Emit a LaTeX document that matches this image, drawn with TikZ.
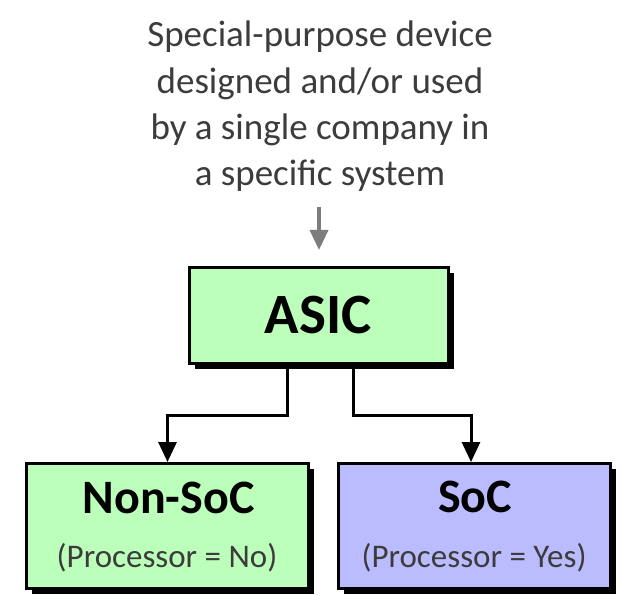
\documentclass[tikz,border=0pt]{standalone}
\usepackage{fontspec}
\setmainfont{Carlito}
\usetikzlibrary{arrows.meta,shadows}
\definecolor{asicgreen}{RGB}{187,255,187}
\definecolor{socblue}{RGB}{187,187,255}
\definecolor{notegray}{RGB}{60,60,60}
\definecolor{arrowgray}{RGB}{125,125,125}
\begin{document}
\begin{tikzpicture}[x=1pt,y=-1pt,
  box/.style={draw=black,line width=3pt,inner sep=0pt,
    drop shadow={shadow xshift=5pt,shadow yshift=-5pt,fill=black,opacity=1}},
  greenbox/.style={box,fill=asicgreen},
  bluebox/.style={box,fill=socblue},
  boxtitle/.style={anchor=base,inner sep=0pt,font=\fontsize{48}{54}\selectfont\bfseries},
  boxnote/.style={anchor=base,inner sep=0pt,text=notegray,font=\fontsize{33}{40}\selectfont},
  conn/.style={line width=3pt,-{Triangle[length=20pt,width=18pt]}},
  feed/.style={draw=arrowgray,line width=3.5pt,-{Triangle[length=20pt,width=18pt]}}
]
\fill[white] (0,0) rectangle (621,596);
\useasboundingbox (0,0) rectangle (621,596);

% description above the tree
\node[anchor=north,align=center,inner sep=0pt,text=notegray,
      font=\fontsize{37}{46.3}\selectfont] (desc) at (320,21)
  {Special-purpose device\\designed and/or used\\by a single company in\\a specific system};

% boxes
\node[greenbox,minimum width=259pt,minimum height=96pt] (asic) at (319,315.5) {};
\node[greenbox,minimum width=282pt,minimum height=125pt] (nonsoc) at (167.5,526) {};
\node[bluebox,minimum width=272pt,minimum height=125pt] (soc) at (474.5,526) {};

% box texts
\node[boxtitle,font=\fontsize{57}{60}\selectfont\bfseries] (asictitle) at (318,333) {ASIC};
\node[boxtitle] (nonsoctitle) at (168.5,513) {Non-SoC};
\node[boxnote] (nonsocnote) at (167,567) {(Processor = No)};
\node[boxtitle] (soctitle) at (475,512) {SoC};
\node[boxnote] (socnote) at (474,567) {(Processor = Yes)};

% connectors
\draw[feed,shorten <=15pt,shorten >=16pt] (desc.south -| asic.north) -- (asic.north);
\coordinate (busL) at (287,415);
\coordinate (busR) at (353,415);
\draw[conn] (asic.south -| busL) -- (busL) -| (nonsoc.north);
\draw[conn] (asic.south -| busR) -- (busR) -| ([xshift=-3.5pt]soc.north);
\end{tikzpicture}
\end{document}
